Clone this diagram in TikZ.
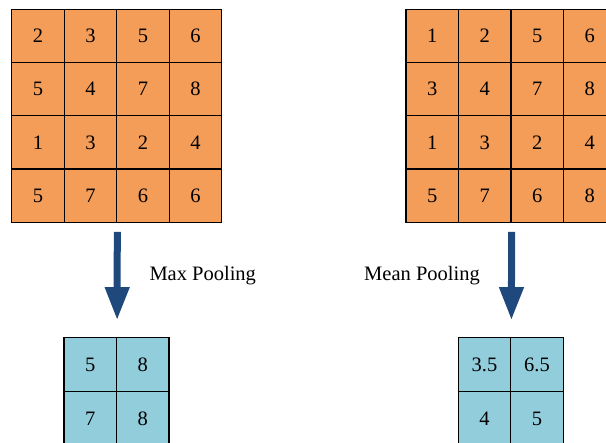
\documentclass[tikz,border=0pt]{standalone}
\usepackage{fontspec}
\setmainfont{Liberation Serif}
\usetikzlibrary{arrows.meta}
\definecolor{cellorange}{RGB}{244,157,88}
\definecolor{cellblue}{RGB}{146,205,220}
\definecolor{arrowblue}{RGB}{31,73,125}
\tikzset{
  gridcell/.style={draw=black, line width=1.2pt, minimum width=52.5pt,
    minimum height=53.2pt, inner sep=0pt, anchor=center,
    font=\fontsize{20.5}{24}\selectfont},
  incell/.style={gridcell, fill=cellorange},
  outcell/.style={gridcell, fill=cellblue, minimum height=54.4pt},
  poolarrow/.style={draw=arrowblue, line width=7pt,
    -{Triangle[width=23pt,length=33pt]}},
  opname/.style={anchor=base west, inner sep=0pt,
    font=\fontsize{20.5}{24}\selectfont},
}
\begin{document}
\begin{tikzpicture}[x=1pt,y=-1pt]
  \useasboundingbox (0,0) rectangle (606,443);
  \clip (0,0) rectangle (606,443);
  % 4x4 input feature maps
  \foreach \v [count=\i from 0] in {2,3,5,6, 5,4,7,8, 1,3,2,4, 5,7,6,6} {
    \pgfmathtruncatemacro\r{int(\i/4)+1}
    \pgfmathtruncatemacro\c{mod(\i,4)+1}
    \node[incell] (L-\r-\c) at ({11.7+52.5*(\c-0.5)},{9.3+53.25*(\r-0.5)}) {\v};
  }
  \foreach \v [count=\i from 0] in {1,2,5,6, 3,4,7,8, 1,3,2,4, 5,7,6,8} {
    \pgfmathtruncatemacro\r{int(\i/4)+1}
    \pgfmathtruncatemacro\c{mod(\i,4)+1}
    \node[incell] (R-\r-\c) at ({406+52.5*(\c-0.5)},{9.3+53.25*(\r-0.5)}) {\v};
  }
  % 2x2 pooled outputs
  \foreach \v [count=\i from 0] in {5,8,7,8} {
    \pgfmathtruncatemacro\r{int(\i/2)+1}
    \pgfmathtruncatemacro\c{mod(\i,2)+1}
    \node[outcell] (PL-\r-\c) at ({64+52.5*(\c-0.5)},{337.3+54.4*(\r-0.5)}) {\v};
  }
  \foreach \v [count=\i from 0] in {3.5,6.5,4,5} {
    \pgfmathtruncatemacro\r{int(\i/2)+1}
    \pgfmathtruncatemacro\c{mod(\i,2)+1}
    \node[outcell] (PR-\r-\c) at ({458.3+52.5*(\c-0.5)},{337.3+54.4*(\r-0.5)}) {\v};
  }
  % pooling arrows
  \draw[poolarrow, shorten <=9pt, shorten >=16.5pt] (L-4-2.south east) -- (PL-1-1.north east);
  \draw[poolarrow, shorten <=9pt, shorten >=16.5pt] (R-4-2.south east) -- (PR-1-1.north east);
  \node[opname] (maxlbl) at (149.3,280.7) {Max Pooling};
  \node[opname] (meanlbl) at (364,280.7) {Mean Pooling};
\end{tikzpicture}
\end{document}
